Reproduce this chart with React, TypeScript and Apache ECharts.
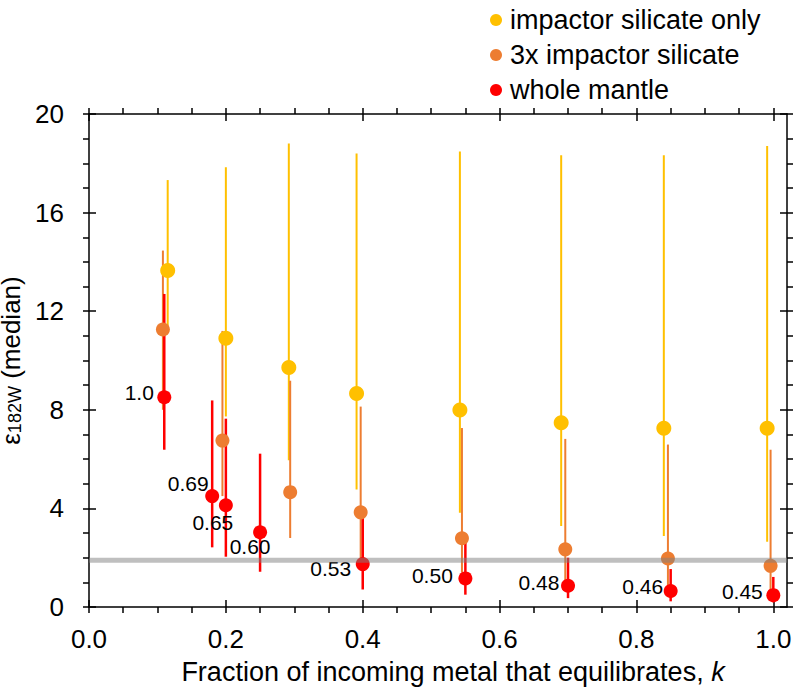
import React, { useEffect, useRef } from "react";
import * as echarts from "echarts";

// ---------- data ----------
const seriesNames = ["impactor silicate only", "3x impactor silicate", "whole mantle"];

const xMajorTicks = [0, 0.2, 0.4, 0.6, 0.8, 1.0];
const xMinorTicks = [0, 0.05, 0.1, 0.15, 0.2, 0.25, 0.3, 0.35, 0.4, 0.45, 0.5, 0.55, 0.6, 0.65, 0.7, 0.75, 0.8, 0.85, 0.9, 0.95, 1.0];
const yMajorTicks = [0, 4, 8, 12, 16, 20];
const yMinorTicks = [0, 1, 2, 3, 4, 5, 6, 7, 8, 9, 10, 11, 12, 13, 14, 15, 16, 17, 18, 19, 20];

// impactor silicate only
const kYellow = [0.115, 0.2, 0.292, 0.391, 0.542, 0.69, 0.84, 0.991];
const yellowMedian = [13.65, 10.9, 9.72, 8.66, 7.99, 7.47, 7.25, 7.25];
const yellowLow = [11.3, 7.73, 5.95, 4.77, 3.82, 3.29, 2.88, 2.65];
const yellowHigh = [17.32, 17.84, 18.8, 18.4, 18.48, 18.33, 18.33, 18.7];

// 3x impactor silicate
const kOrange = [0.108, 0.195, 0.294, 0.397, 0.545, 0.696, 0.846, 0.996];
const orangeMedian = [11.26, 6.75, 4.66, 3.84, 2.79, 2.34, 1.97, 1.67];
const orangeLow = [8.0, 4.5, 2.8, 1.9, 1.4, 1.0, 0.8, 0.7];
const orangeHigh = [14.46, 11.2, 9.18, 8.13, 7.26, 6.82, 6.59, 6.38];

// whole mantle
const kRed = [0.11, 0.18, 0.2, 0.25, 0.4, 0.55, 0.7, 0.85, 1.0];
const redMedian = [8.51, 4.5, 4.13, 3.03, 1.74, 1.16, 0.86, 0.65, 0.48];
const redLow = [6.38, 2.42, 2.04, 1.43, 0.71, 0.5, 0.36, 0.23, 0.19];
const redHigh = [12.7, 8.38, 7.64, 6.22, 3.62, 2.68, 2.0, 1.54, 1.22];
const redLabels = ["1.0", "0.69", "0.65", "0.60", "0.53", "0.50", "0.48", "0.46", "0.45"];

// reference band
const bandValue = 1.9;

// ---------- styling ----------
const FONT = "'Liberation Sans', Arial, Helvetica, sans-serif";
const X_MIN = 0;
const X_MAX = 1.02;
const Y_MIN = 0;
const Y_MAX = 20;
const YELLOW = "#FFC000";
const ORANGE = "#ED7D31";
const RED = "#FF0000";
const labelOffsets = [
  [-25, -5],
  [-24, -13],
  [-13, 17],
  [-10, 14],
  [-32, 4],
  [-33, -3],
  [-29, -3],
  [-28, -4],
  [-31, -4],
];

function errorBars(name: string, xs: number[], lows: number[], highs: number[], color: string, width: number) {
  return {
    type: "custom",
    name,
    xAxisIndex: 0,
    yAxisIndex: 0,
    silent: true,
    z: 2,
    data: xs.map((x, i) => [x, lows[i], highs[i]]),
    encode: { x: 0, y: [1, 2] },
    renderItem: (_params: any, api: any) => {
      const a = api.coord([api.value(0), api.value(1)]);
      const b = api.coord([api.value(0), api.value(2)]);
      return {
        type: "line",
        shape: { x1: a[0], y1: a[1], x2: b[0], y2: b[1] },
        style: { stroke: color, lineWidth: width },
      };
    },
  };
}

function markers(name: string, xs: number[], ys: number[], color: string, size: number, z: number) {
  return {
    type: "scatter",
    name,
    xAxisIndex: 0,
    yAxisIndex: 0,
    z,
    symbol: "circle",
    symbolSize: size,
    itemStyle: { color, opacity: 1 },
    data: xs.map((x, i) => [x, ys[i]]),
  };
}

const lineStyle = { color: "#000", width: 1.5 };

function xAxisDef(position: "bottom" | "top", inside: boolean, main: boolean) {
  return {
    type: "value",
    position,
    min: X_MIN,
    max: X_MAX,
    splitLine: { show: false },
    axisLine: { show: !inside, onZero: false, lineStyle },
    axisTick: {
      show: true,
      inside,
      length: inside ? 7 : 6,
      customValues: inside ? xMajorTicks : xMinorTicks,
      lineStyle,
    },
    axisLabel: main
      ? {
          show: true,
          customValues: xMajorTicks,
          formatter: (v: number) => v.toFixed(1),
          fontSize: 26,
          fontFamily: FONT,
          color: "#000",
          margin: 19,
        }
      : { show: false },
    ...(main
      ? {
          name: "{n|Fraction of incoming metal that equilibrates, }{i|k}",
          nameLocation: "middle",
          nameGap: 51,
          nameTextStyle: {
            padding: [0, 0, 0, 30],
            rich: {
              n: { fontSize: 27, fontFamily: FONT, color: "#000" },
              i: { fontSize: 27, fontFamily: FONT, color: "#000", fontStyle: "italic" },
            },
          },
        }
      : {}),
  };
}

function yAxisDef(position: "left" | "right", inside: boolean, main: boolean) {
  return {
    type: "value",
    position,
    min: Y_MIN,
    max: Y_MAX,
    splitLine: { show: false },
    axisLine: { show: !inside, onZero: false, lineStyle },
    axisTick: {
      show: true,
      inside,
      length: inside ? 7 : 6,
      customValues: inside ? yMajorTicks : yMinorTicks,
      lineStyle,
    },
    axisLabel: main
      ? {
          show: true,
          customValues: yMajorTicks,
          fontSize: 26,
          fontFamily: FONT,
          color: "#000",
          margin: 25,
        }
      : { show: false },
    ...(main
      ? {
          name: "{e|ε}{s|182W}{m| (median)}",
          nameLocation: "middle",
          nameGap: 49,
          nameTextStyle: {
            rich: {
              e: { fontSize: 26, fontFamily: FONT, color: "#000", lineHeight: 26 },
              s: { fontSize: 18, fontFamily: FONT, color: "#000", lineHeight: 16, verticalAlign: "bottom" },
              m: { fontSize: 26, fontFamily: FONT, color: "#000", lineHeight: 26 },
            },
          },
        }
      : {}),
  };
}

function buildOption() {
  const redScatter: any = markers(seriesNames[2], kRed, redMedian, RED, 14, 5);
  redScatter.data = kRed.map((k, i) => ({
    value: [k, redMedian[i]],
    label: {
      show: true,
      formatter: redLabels[i],
      position: "inside",
      offset: labelOffsets[i],
      fontSize: 21,
      fontFamily: FONT,
      color: "#000",
    },
  }));

  return {
    animation: false,
    backgroundColor: "#fff",
    grid: { left: 89, top: 114, width: 698, height: 493, containLabel: false, outerBoundsMode: "none" },
    legend: {
      data: seriesNames,
      orient: "vertical",
      left: 485,
      top: 0,
      icon: "circle",
      itemWidth: 12,
      itemHeight: 12,
      itemGap: 5,
      selectedMode: false,
      textStyle: { fontSize: 27, fontFamily: FONT, color: "#000", lineHeight: 30, padding: [0, 0, 0, 3] },
    },
    xAxis: [
      xAxisDef("bottom", false, true),
      xAxisDef("bottom", true, false),
      xAxisDef("top", false, false),
      xAxisDef("top", true, false),
    ],
    yAxis: [
      yAxisDef("left", false, true),
      yAxisDef("left", true, false),
      yAxisDef("right", false, false),
      yAxisDef("right", true, false),
    ],
    series: [
      errorBars("err-yellow", kYellow, yellowLow, yellowHigh, YELLOW, 2),
      errorBars("err-orange", kOrange, orangeLow, orangeHigh, ORANGE, 2),
      errorBars("err-red", kRed, redLow, redHigh, RED, 2.5),
      markers(seriesNames[0], kYellow, yellowMedian, YELLOW, 15, 3),
      markers(seriesNames[1], kOrange, orangeMedian, ORANGE, 14, 4),
      redScatter,
      {
        type: "line",
        name: "band",
        xAxisIndex: 0,
        yAxisIndex: 0,
        silent: true,
        z: 10,
        symbol: "none",
        lineStyle: { color: "rgba(128,128,128,0.5)", width: 5 },
        data: [
          [X_MIN, bandValue],
          [X_MAX, bandValue],
        ],
      },
    ],
  };
}

export default function App() {
  const ref = useRef<HTMLDivElement>(null);
  useEffect(() => {
    document.body.style.margin = "0";
    const chart = echarts.init(ref.current!, null, { renderer: "svg" });
    chart.setOption(buildOption() as any);
    return () => chart.dispose();
  }, []);
  return <div ref={ref} style={{ width: 800, height: 691 }} />;
}
